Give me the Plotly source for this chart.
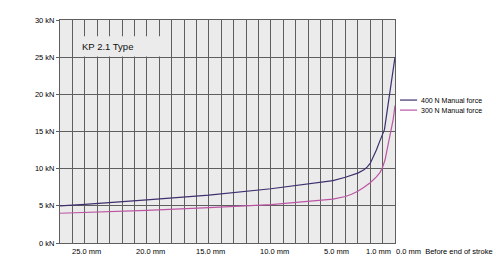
import plotly.graph_objects as go

# Data (mm before end of stroke, kN)
stroke_400 = [27, 25, 20, 15, 10, 5, 4, 3, 2.5, 2.25, 2, 1.75, 1.5, 1.25, 1, 0.85, 0.5, 0]
force_400 = [5.0, 5.2, 5.8, 6.45, 7.3, 8.4, 8.85, 9.4, 9.85, 10.2, 10.7, 11.5, 12.5, 13.6, 14.6, 15.25, 19.3, 25.0]
stroke_300 = [27, 25, 20, 15, 10, 5, 4, 3.5, 3, 2.5, 2, 1.5, 1.2, 1, 0.8, 0.67, 0.5, 0.3, 0.15, 0]
force_300 = [4.0, 4.1, 4.4, 4.75, 5.15, 5.9, 6.25, 6.55, 6.95, 7.5, 8.1, 8.9, 9.5, 10.2, 11.2, 12.3, 13.7, 15.0, 16.6, 18.5]
series_names = ["400 N Manual force", "300 N Manual force"]
series_colors = ["#3f2f6e", "#bb55a3"]
x_tick_vals = [25, 20, 15, 10, 5, 1, 0]
x_tick_text = ["25.0 mm", "20.0 mm", "15.0 mm", "10.0 mm", "5.0 mm", "1.0 mm", "0.0 mm"]
y_tick_vals = [0, 5, 10, 15, 20, 25, 30]
y_tick_text = ["0 kN", "5 kN", "10 kN", "15 kN", "20 kN", "25 kN", "30 kN"]
title_text = "KP 2.1 Type"
axis_caption = "Before end of stroke"

FONT = "Liberation Sans"
GRID = "#5e5e5e"
BG = "#ebebeb"
TXT = "#000000"

fig = go.Figure()
for xs, ys, name, col in [(stroke_400, force_400, series_names[0], series_colors[0]),
                          (stroke_300, force_300, series_names[1], series_colors[1])]:
    fig.add_trace(go.Scatter(x=xs, y=ys, name=name, mode="lines",
                             line=dict(color=col, width=1.2, shape="linear"),
                             showlegend=False))

fig.update_layout(
    width=496, height=263,
    margin=dict(l=60, r=101, t=20, b=20),
    paper_bgcolor="white", plot_bgcolor=BG,
    font=dict(family=FONT, size=7.5, color=TXT),
    showlegend=False,
)
fig.update_xaxes(range=[27, 0], tickmode="linear", tick0=0, dtick=1,
                 showticklabels=False, showgrid=True, gridcolor=GRID, gridwidth=1,
                 zeroline=False, showline=True, linecolor=GRID, linewidth=1, mirror=True,
                 ticks="")
fig.update_yaxes(range=[0, 30], tickmode="array", tickvals=y_tick_vals, ticktext=y_tick_text,
                 showgrid=True, gridcolor=GRID, gridwidth=1, zeroline=False,
                 showline=True, linecolor=GRID, linewidth=1, mirror=True,
                 ticks="outside", ticklen=3, tickcolor=GRID,
                 tickfont=dict(family=FONT, size=7.5, color=TXT))

# x tick labels
shifts = [2, 4, 2, 4, 4]
for v, t, s in zip(x_tick_vals[:5], x_tick_text[:5], shifts):
    fig.add_annotation(x=v, xref="x", y=0, yref="paper", yanchor="top", yshift=-2,
                       xanchor="center", xshift=s, text=t, showarrow=False,
                       font=dict(family=FONT, size=7.5, color=TXT))
fig.add_annotation(x=x_tick_vals[5], xref="x", y=0, yref="paper", yanchor="top", yshift=-2,
                   xanchor="right", xshift=10, text=x_tick_text[5], showarrow=False,
                   font=dict(family=FONT, size=7.5, color=TXT))
fig.add_annotation(x=x_tick_vals[6], xref="x", y=0, yref="paper", yanchor="top", yshift=-2,
                   xanchor="left", xshift=-1,
                   text=x_tick_text[6] + "&nbsp;&nbsp;" + axis_caption, showarrow=False,
                   font=dict(family=FONT, size=7.5, color=TXT))

# title box
fig.add_shape(type="rect", xref="x", yref="y", x0=25.9, x1=18.1, y0=25.1, y1=27.8,
              fillcolor=BG, line=dict(width=0), layer="above")
fig.add_annotation(x=25.35, xref="x", y=26.4, yref="y", xanchor="left", yanchor="middle",
                   text=title_text, showarrow=False,
                   font=dict(family=FONT, size=9.5, color="#111111"))

# manual legend
for i, (name, col) in enumerate(zip(series_names, series_colors)):
    yp = 0.641 - i * 0.045
    fig.add_shape(type="line", xref="paper", yref="paper", x0=1.015, x1=1.066, y0=yp, y1=yp,
                  line=dict(color=col, width=1.2))
    fig.add_annotation(x=1.073, xref="paper", y=yp, yref="paper", xanchor="left",
                       yanchor="middle", text=name, showarrow=False,
                       font=dict(family=FONT, size=7, color=TXT))

fig.write_html("out.html")
